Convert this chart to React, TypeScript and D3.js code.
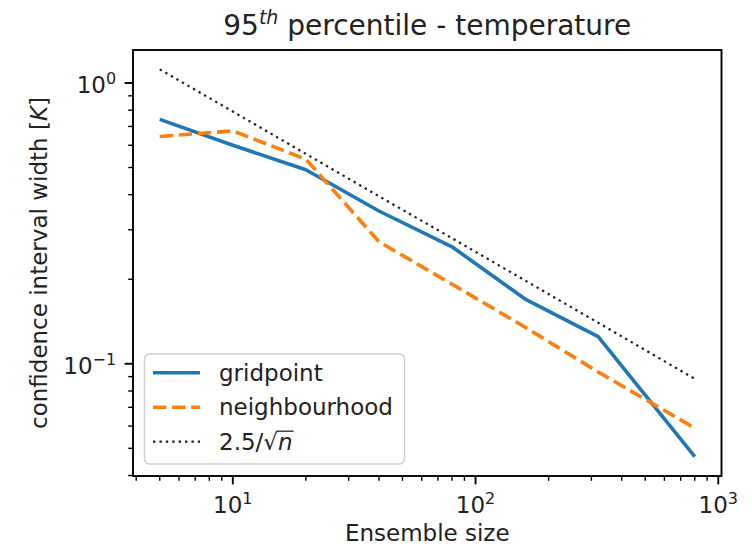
import { useEffect, useRef } from "react";
import * as d3 from "d3";

// ensemble sizes
const sizes = [5, 10, 20, 40, 80, 160, 320, 800];
// confidence interval width [K]
const gridpoint = [0.742, 0.6, 0.491, 0.35, 0.261, 0.17, 0.125, 0.0467];
const neighbourhood = [0.645, 0.675, 0.535, 0.272, 0.192, 0.135, 0.0935, 0.059];
const reference = [1.118, 0.791, 0.559, 0.395, 0.28, 0.198, 0.14, 0.0884];

const xMajor = [1, 2, 3];
const yMajor = [-1, 0];

const series = [
  { name: "gridpoint", values: gridpoint, color: "#1f77b4", width: 3.6, dash: null },
  { name: "neighbourhood", values: neighbourhood, color: "#ff7f0e", width: 3.6, dash: "13.3 5.8" },
  { name: "ref", values: reference, color: "#222", width: 2.2, dash: "2.4 4" },
];

const App = () => {
  const svgRef = useRef<SVGSVGElement | null>(null);

  useEffect(() => {
    const svg = d3.select(svgRef.current);
    svg.selectAll("*").remove();

    const width = 752;
    const height = 546;
    const plot = { left: 133, right: 721.5, top: 50, bottom: 476 };
    const font = "DejaVu Sans, sans-serif";
    const fs = 23;

    // log domains with 5% padding, like matplotlib
    const pad = (lo: number, hi: number) => {
      const a = Math.log10(lo);
      const b = Math.log10(hi);
      const m = (b - a) * 0.05;
      return [10 ** (a - m), 10 ** (b + m)];
    };
    const allY = [...gridpoint, ...neighbourhood, ...reference];
    const xScale = d3
      .scaleLog()
      .domain(pad(d3.min(sizes)!, d3.max(sizes)!))
      .range([plot.left, plot.right]);
    const yScale = d3
      .scaleLog()
      .domain(pad(d3.min(allY)!, d3.max(allY)!))
      .range([plot.bottom, plot.top]);

    svg.attr("width", width).attr("height", height);
    svg.append("rect").attr("width", width).attr("height", height).attr("fill", "#fff");

    // Lines
    const line = d3
      .line<number>()
      .x((_, i) => xScale(sizes[i]))
      .y((d) => yScale(d));

    series.forEach((s) => {
      svg
        .append("path")
        .datum(s.values)
        .attr("fill", "none")
        .attr("stroke", s.color)
        .attr("stroke-width", s.width)
        .attr("stroke-linejoin", "round")
        .attr("stroke-dasharray", s.dash)
        .attr("d", line);
    });

    // Minor ticks
    const [x0, x1] = xScale.domain();
    const [y0, y1] = yScale.domain();
    const minors = (lo: number, hi: number) => {
      const out: number[] = [];
      for (let e = -3; e <= 4; e++) {
        for (let k = 2; k <= 9; k++) {
          const v = k * 10 ** e;
          if (v >= lo && v <= hi) out.push(v);
        }
      }
      return out;
    };

    const ax = svg.append("g").attr("stroke", "#000");
    minors(x0, x1).forEach((v) => {
      ax.append("line")
        .attr("x1", xScale(v)).attr("x2", xScale(v))
        .attr("y1", plot.bottom).attr("y2", plot.bottom + 4.8)
        .attr("stroke-width", 1.4);
    });
    minors(y0, y1).forEach((v) => {
      ax.append("line")
        .attr("y1", yScale(v)).attr("y2", yScale(v))
        .attr("x1", plot.left).attr("x2", plot.left - 4.8)
        .attr("stroke-width", 1.4);
    });

    // Major ticks + labels
    xMajor.forEach((e) => {
      const x = xScale(10 ** e);
      ax.append("line")
        .attr("x1", x).attr("x2", x)
        .attr("y1", plot.bottom).attr("y2", plot.bottom + 8.4)
        .attr("stroke-width", 1.9);
      const t = svg
        .append("text")
        .attr("x", x)
        .attr("y", 513)
        .attr("text-anchor", "middle")
        .attr("font-family", font)
        .attr("font-size", fs)
        .attr("fill", "#222");
      t.append("tspan").text("10");
      t.append("tspan").attr("dy", -9).attr("font-size", 16).text(String(e));
    });
    yMajor.forEach((e) => {
      const y = yScale(10 ** e);
      ax.append("line")
        .attr("y1", y).attr("y2", y)
        .attr("x1", plot.left).attr("x2", plot.left - 8.4)
        .attr("stroke-width", 1.9);
      const t = svg
        .append("text")
        .attr("x", plot.left - 16.8)
        .attr("y", y + 10)
        .attr("text-anchor", "end")
        .attr("font-family", font)
        .attr("font-size", fs)
        .attr("fill", "#222");
      t.append("tspan").text("10");
      t.append("tspan").attr("dy", -9).attr("font-size", 16).text(e < 0 ? "\u2212" + -e : String(e));
    });

    // Frame
    svg
      .append("rect")
      .attr("x", plot.left)
      .attr("y", plot.top)
      .attr("width", plot.right - plot.left)
      .attr("height", plot.bottom - plot.top)
      .attr("fill", "none")
      .attr("stroke", "#000")
      .attr("stroke-width", 1.9);

    // Legend
    const lg = { x: 144.5, y: 354, w: 260, h: 110 };
    svg
      .append("rect")
      .attr("x", lg.x)
      .attr("y", lg.y)
      .attr("width", lg.w)
      .attr("height", lg.h)
      .attr("rx", 5)
      .attr("fill", "#fff")
      .attr("fill-opacity", 0.8)
      .attr("stroke", "#d0d0d0")
      .attr("stroke-width", 1.5);

    const rows = [372.7, 407.3, 441.7];
    series.forEach((s, i) => {
      svg
        .append("line")
        .attr("x1", 153).attr("x2", 200)
        .attr("y1", rows[i]).attr("y2", rows[i])
        .attr("stroke", s.color)
        .attr("stroke-width", s.width)
        .attr("stroke-dasharray", s.dash);
      const t = svg
        .append("text")
        .attr("x", 219)
        .attr("y", rows[i] + 8)
        .attr("font-family", font)
        .attr("font-size", fs)
        .attr("fill", "#222");
      if (s.name === "ref") {
        t.append("tspan").text("2.5/\u221A");
        t.append("tspan").attr("font-style", "italic").text("n");
        // overline of the root sign, from the end of the radical over the n
        const node = t.node() as SVGTextElement;
        const root = node.getExtentOfChar(4);
        const n = node.getExtentOfChar(5);
        svg
          .append("line")
          .attr("x1", root.x + root.width - 1.5)
          .attr("x2", n.x + n.width + 1)
          .attr("y1", rows[i] + 8 - 18.5)
          .attr("y2", rows[i] + 8 - 18.5)
          .attr("stroke", "#222")
          .attr("stroke-width", 1.3);
      } else {
        t.text(s.name);
      }
    });

    // Axis labels and title
    svg
      .append("text")
      .attr("x", (plot.left + plot.right) / 2)
      .attr("y", 541)
      .attr("text-anchor", "middle")
      .attr("font-family", font)
      .attr("font-size", fs)
      .attr("fill", "#222")
      .text("Ensemble size");

    const yl = svg
      .append("text")
      .attr("transform", `translate(47,${(plot.top + plot.bottom) / 2}) rotate(-90)`)
      .attr("text-anchor", "middle")
      .attr("font-family", font)
      .attr("font-size", fs)
      .attr("fill", "#222");
    yl.append("tspan").text("confidence interval width [");
    yl.append("tspan").attr("font-style", "italic").text("K");
    yl.append("tspan").text("]");

    const title = svg
      .append("text")
      .attr("x", (plot.left + plot.right) / 2)
      .attr("y", 35)
      .attr("text-anchor", "middle")
      .attr("font-family", font)
      .attr("font-size", 28)
      .attr("fill", "#222");
    title.append("tspan").text("95");
    title.append("tspan").attr("dy", -11).attr("font-size", 19).attr("font-style", "italic").text("th");
    title.append("tspan").attr("dy", 11).text(" percentile - temperature");
  }, []);

  return <svg ref={svgRef} style={{ position: "absolute", left: 0, top: 0 }}></svg>;
};

export default App;
